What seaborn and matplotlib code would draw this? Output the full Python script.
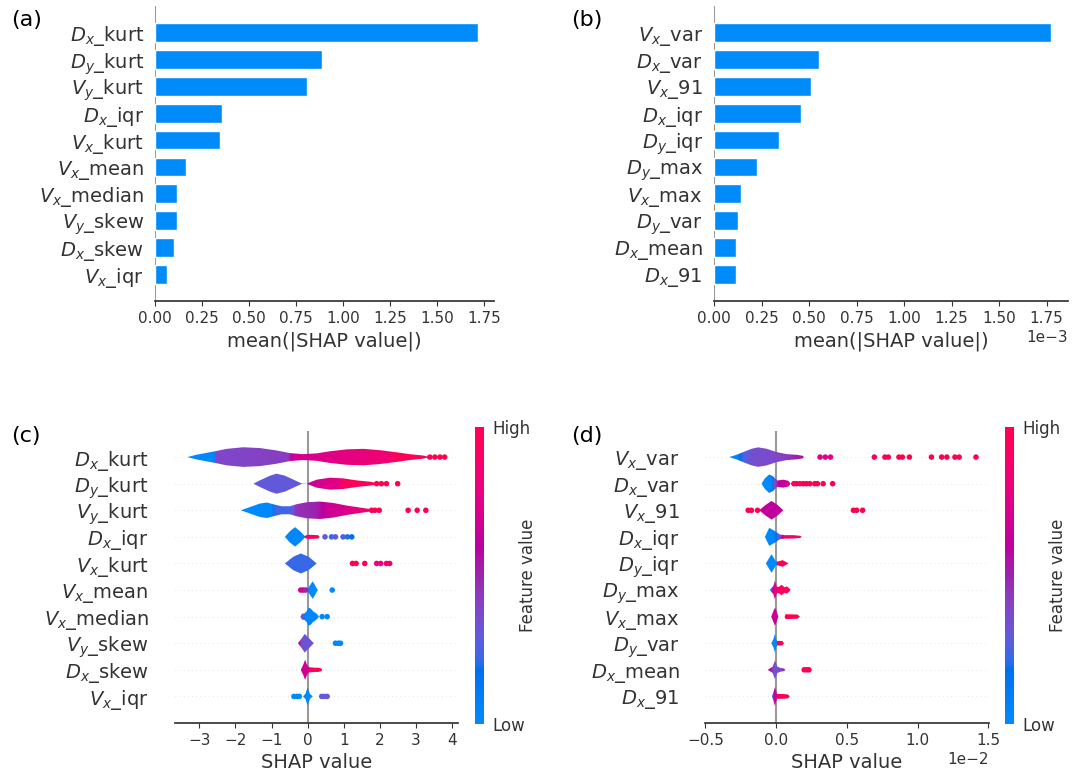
import numpy as np
import pandas as pd
import matplotlib
matplotlib.use("Agg")
import matplotlib.pyplot as plt
import seaborn as sns
from matplotlib.colors import LinearSegmentedColormap, Normalize
from matplotlib.cm import ScalarMappable
from matplotlib.ticker import MultipleLocator

# ---------------- data ----------------
A_FEATURES = [r"$D_x$_kurt", r"$D_y$_kurt", r"$V_y$_kurt", r"$D_x$_iqr", r"$V_x$_kurt",
              r"$V_x$_mean", r"$V_x$_median", r"$V_y$_skew", r"$D_x$_skew", r"$V_x$_iqr"]
A_VALUES = [1.718, 0.886, 0.808, 0.355, 0.344, 0.167, 0.119, 0.116, 0.100, 0.065]

B_FEATURES = [r"$V_x$_var", r"$D_x$_var", r"$V_x$_91", r"$D_x$_iqr", r"$D_y$_iqr",
              r"$D_y$_max", r"$V_x$_max", r"$D_y$_var", r"$D_x$_mean", r"$D_x$_91"]
B_VALUES = [1.774e-3, 0.554e-3, 0.512e-3, 0.458e-3, 0.344e-3,
            0.227e-3, 0.142e-3, 0.128e-3, 0.116e-3, 0.116e-3]

# panel (c): violin outlines (SHAP value, half width) and feature-value colouring
C_SHAPE_X = [
    [-3.33, -3.07, -2.79, -2.56, -2.24, -1.78, -1.32, -0.86, -0.49, -0.12, 0.25, 0.62, 1.08, 1.54, 2.00, 2.46, 2.83, 3.19, 3.38],
    [-1.50, -1.32, -1.04, -0.86, -0.63, -0.35, -0.17, -0.03, 0.06, 0.25, 0.62, 0.98, 1.35, 1.72, 2.00],
    [-1.85, -1.59, -1.32, -1.13, -0.95, -0.72, -0.49, -0.31, -0.03, 0.34, 0.71, 1.08, 1.45, 1.72, 1.95],
    [-0.63, -0.50, -0.35, -0.20, -0.08, -0.02, 0.15, 0.30, 0.33],
    [-0.63, -0.40, -0.19, 0.03, 0.25],
    [-0.03, 0.06, 0.14, 0.21, 0.28],
    [-0.20, -0.16, -0.09, -0.03, 0.03, 0.09, 0.15, 0.22, 0.29, 0.31],
    [-0.27, -0.20, -0.08, 0.05, 0.17],
    [-0.19, -0.12, -0.07, -0.02, 0.03, 0.10, 0.20, 0.30, 0.38, 0.40],
    [-0.13, -0.06, 0.00, 0.06, 0.14],
]
C_SHAPE_W = [
    [0.0, 0.09, 0.16, 0.22, 0.31, 0.37, 0.34, 0.25, 0.15, 0.11, 0.14, 0.22, 0.29, 0.31, 0.26, 0.18, 0.11, 0.06, 0.0],
    [0.0, 0.125, 0.30, 0.377, 0.30, 0.125, 0.01, 0.0, 0.05, 0.15, 0.226, 0.20, 0.125, 0.075, 0.0],
    [0.0, 0.125, 0.253, 0.291, 0.226, 0.151, 0.151, 0.226, 0.302, 0.328, 0.275, 0.177, 0.102, 0.049, 0.0],
    [0.0, 0.20, 0.366, 0.20, 0.03, 0.075, 0.075, 0.06, 0.0],
    [0.0, 0.25, 0.377, 0.25, 0.0],
    [0.0, 0.17, 0.33, 0.17, 0.0],
    [0.0, 0.11, 0.12, 0.20, 0.34, 0.30, 0.20, 0.14, 0.05, 0.0],
    [0.0, 0.12, 0.35, 0.17, 0.0],
    [0.0, 0.20, 0.38, 0.20, 0.10, 0.09, 0.08, 0.08, 0.05, 0.0],
    [0.0, 0.10, 0.35, 0.10, 0.0],
]
C_COLOR_X = [
    [-3.33, -2.58, -2.55, -0.55, -0.40, 0.60, 2.30, 2.40, 3.40],
    [-1.50, -0.10, 0.05, 0.90, 0.98, 2.00],
    [-1.85, -1.00, -0.95, -0.45, -0.35, 0.20, 0.50, 1.20, 1.80, 1.95],
    [-0.63, -0.10, -0.06, 0.33],
    [-0.63, 0.25],
    [-0.03, 0.28],
    [-0.20, -0.10, -0.07, 0.31],
    [-0.27, -0.22, -0.19, 0.17],
    [-0.19, 0.02, 0.05, 0.40],
    [-0.13, 0.14],
]
C_COLOR_V = [
    [0.0, 0.02, 0.38, 0.42, 0.68, 0.75, 0.85, 0.95, 1.0],
    [0.30, 0.30, 0.65, 0.78, 0.95, 1.0],
    [0.0, 0.02, 0.22, 0.25, 0.45, 0.50, 0.65, 0.75, 0.90, 0.95],
    [0.02, 0.02, 0.90, 1.0],
    [0.22, 0.22],
    [0.0, 0.0],
    [0.35, 0.35, 0.02, 0.02],
    [0.70, 0.70, 0.33, 0.33],
    [0.68, 0.68, 0.95, 0.98],
    [0.02, 0.02],
]
C_DOT_X = [
    [3.38, 3.52, 3.66, 3.79],
    [1.91, 2.04, 2.18, 2.49],
    [1.77, 1.86, 1.98, 2.78, 3.03, 3.27],
    [0.48, 0.66, 0.77, 0.98, 1.10, 1.22],
    [1.24, 1.34, 1.58, 1.91, 2.02, 2.18, 2.27],
    [-0.19, -0.12, -0.05, 0.68],
    [0.40, 0.54],
    [0.77, 0.85, 0.91],
    [],
    [-0.38, -0.30, -0.23, 0.39, 0.46, 0.54],
]
C_DOT_V = [
    [1.0, 1.0, 1.0, 1.0],
    [1.0, 1.0, 1.0, 1.0],
    [0.95, 1.0, 1.0, 1.0, 1.0, 1.0],
    [0.30, 0.22, 0.30, 0.25, 0.20, 0.18],
    [1.0, 1.0, 0.95, 0.80, 0.80, 0.85, 0.85],
    [0.70, 0.70, 0.50, 0.0],
    [0.02, 0.02],
    [0.02, 0.02, 0.02],
    [],
    [0.02, 0.02, 0.02, 0.30, 0.30, 0.30],
]

# panel (d): values in units of 1e-2
D_UNIT = 1e-2
D_SHAPE_X = [
    [-0.332, -0.280, -0.233, -0.174, -0.127, -0.068, 0.003, 0.073, 0.144, 0.187, 0.196],
    [-0.104, -0.080, -0.049, -0.021, 0.007, 0.050, 0.085, 0.102],
    [-0.120, -0.075, -0.033, 0.010, 0.050],
    [-0.080, -0.049, -0.009, 0.026, 0.062, 0.121, 0.170, 0.180],
    [-0.073, -0.033, -0.002, 0.014, 0.045, 0.078, 0.085],
    [-0.045, -0.035, -0.020, -0.009, 0.005, 0.020, 0.038, 0.060, 0.075, 0.095, 0.100],
    [-0.035, -0.020, -0.009, 0.003, 0.015, 0.060, 0.066, 0.150, 0.168],
    [-0.035, -0.020, -0.009, 0.000, 0.007, 0.020, 0.045, 0.055],
    [-0.060, -0.045, -0.025, -0.009, 0.008, 0.030, 0.055, 0.065],
    [-0.030, -0.020, -0.009, 0.002, 0.008, 0.050, 0.085, 0.095],
]
D_SHAPE_W = [
    [0.0, 0.087, 0.189, 0.313, 0.366, 0.313, 0.189, 0.113, 0.087, 0.049, 0.0],
    [0.0, 0.20, 0.35, 0.275, 0.12, 0.15, 0.11, 0.0],
    [0.0, 0.20, 0.35, 0.20, 0.0],
    [0.0, 0.34, 0.215, 0.09, 0.065, 0.065, 0.04, 0.0],
    [0.0, 0.35, 0.075, 0.075, 0.125, 0.03, 0.0],
    [0.0, 0.07, 0.15, 0.35, 0.12, 0.12, 0.20, 0.10, 0.14, 0.05, 0.0],
    [0.0, 0.20, 0.34, 0.20, 0.0, 0.0, 0.09, 0.08, 0.0],
    [0.0, 0.15, 0.35, 0.15, 0.08, 0.09, 0.08, 0.0],
    [0.0, 0.05, 0.12, 0.35, 0.12, 0.07, 0.05, 0.0],
    [0.0, 0.15, 0.35, 0.15, 0.09, 0.09, 0.07, 0.0],
]
D_COLOR_X = [
    [-0.332, -0.280, -0.230, -0.170, 0.000, 0.100, 0.196],
    [-0.104, -0.030, -0.015, 0.020, 0.102],
    [-0.120, 0.050],
    [-0.080, -0.020, 0.030, 0.060, 0.180],
    [-0.073, -0.002, 0.008, 0.085],
    [-0.045, -0.030, -0.010, 0.020, 0.050, 0.100],
    [-0.035, 0.015, 0.060, 0.168],
    [-0.035, 0.004, 0.012, 0.055],
    [-0.060, -0.035, -0.020, 0.000, 0.040, 0.065],
    [-0.030, -0.015, 0.005, 0.020, 0.095],
]
D_COLOR_V = [
    [0.0, 0.05, 0.25, 0.35, 0.38, 0.45, 0.60],
    [0.0, 0.02, 0.30, 0.62, 0.70],
    [0.62, 0.62],
    [0.0, 0.02, 0.40, 0.85, 1.0],
    [0.0, 0.02, 1.0, 1.0],
    [0.10, 0.50, 0.80, 0.90, 0.95, 1.0],
    [0.65, 0.65, 1.0, 1.0],
    [0.0, 0.02, 1.0, 1.0],
    [0.80, 0.50, 0.35, 0.33, 0.45, 0.50],
    [0.10, 0.65, 0.75, 1.0, 1.0],
]
D_DOT_X = [
    [0.310, 0.347, 0.384, 0.694, 0.769, 0.793, 0.868, 0.892, 0.942, 1.098, 1.170, 1.207, 1.264, 1.294, 1.413],
    [0.125, 0.144, 0.167, 0.191, 0.214, 0.238, 0.273, 0.292, 0.332, 0.399],
    [-0.198, -0.175, -0.132, 0.546, 0.569, 0.611],
    [], [], [], [], [],
    [0.198, 0.215, 0.231],
    [],
]
D_DOT_V = [
    [0.75, 0.75, 0.80, 1.0, 1.0, 1.0, 1.0, 1.0, 1.0, 1.0, 1.0, 1.0, 1.0, 1.0, 1.0],
    [0.95, 0.95, 0.95, 1.0, 1.0, 1.0, 1.0, 1.0, 1.0, 1.0],
    [1.0, 1.0, 0.95, 1.0, 1.0, 1.0],
    [], [], [], [], [],
    [1.0, 1.0, 1.0],
    [],
]

# ---------------- style ----------------
sns.set_theme(style="white")
plt.rcParams['font.family'] = ['DejaVu Sans']
plt.rcParams['mathtext.fontset'] = 'dejavusans'
AXIS_COLOR = "#333333"
BAR_COLOR = "#008bfb"


def _lch_to_rgb(l, c, h):
    a, b = c * np.cos(h), c * np.sin(h)
    fy = (l + 16.0) / 116.0
    fx, fz = fy + a / 500.0, fy - b / 200.0
    d = 6.0 / 29.0
    finv = lambda t: np.where(t > d, t ** 3, 3 * d * d * (t - 4.0 / 29.0))
    xyz = np.array([0.95047 * finv(fx), finv(fy), 1.08883 * finv(fz)])
    m = np.array([[3.2406, -1.5372, -0.4986], [-0.9689, 1.8758, 0.0415], [0.0557, -0.2040, 1.0570]])
    lin = m @ xyz
    rgb = np.where(lin > 0.0031308, 1.055 * np.abs(lin) ** (1 / 2.4) - 0.055, 12.92 * lin)
    return np.clip(rgb, 0, 1)


def shap_red_blue():
    blue_lch = [54.0, 70.0, 4.6588]
    red_lch = [54.0, 90.0, 0.35470565 + 2 * np.pi]
    n = 100
    ls = list(np.linspace(blue_lch[0], 40.0, n // 2)) + list(np.linspace(40.0, red_lch[0], n // 2))
    cs = np.linspace(blue_lch[1], red_lch[1], n)
    hs = np.linspace(blue_lch[2], red_lch[2], n)
    cols = [_lch_to_rgb(l, c, h) for l, c, h in zip(ls, cs, hs)]
    return LinearSegmentedColormap.from_list("red_blue", cols)


CMAP = shap_red_blue()

W, H = 1089, 778
fig = plt.figure(figsize=(W / 100, H / 100), dpi=100)


def box(l, t, r, b):
    return [l / W, 1 - b / H, (r - l) / W, (b - t) / H]


def style_axes(ax, ypad, step, sci):
    for s in ["top", "right", "left"]:
        ax.spines[s].set_visible(False)
    ax.spines["bottom"].set_color(AXIS_COLOR)
    ax.xaxis.set_major_locator(MultipleLocator(step))
    if sci:
        ax.ticklabel_format(style="sci", axis="x", scilimits=(0, 0))
    ax.tick_params(axis="y", length=0, pad=ypad, labelsize=14, labelcolor=AXIS_COLOR)
    ax.tick_params(axis="x", length=3.5, width=0.8, color=AXIS_COLOR, labelsize=11,
                   labelcolor=AXIS_COLOR, bottom=True)
    ax.xaxis.get_offset_text().set_fontsize(11)
    ax.xaxis.get_offset_text().set_color(AXIS_COLOR)
    ax.set_ylabel("")


def bar_panel(rect, feats, vals, step, sci):
    ax = fig.add_axes(rect)
    df = pd.DataFrame({"feature": feats, "value": vals})
    sns.barplot(data=df, x="value", y="feature", color=BAR_COLOR, saturation=1,
                width=0.7, orient="h", ax=ax)
    ax.axvline(0, color="#999999", lw=1.5, zorder=-1)
    ax.set_ylim(len(feats), -1)
    ax.set_xlim(0, max(vals) * 1.05)
    style_axes(ax, 8, step, sci)
    ax.set_xlabel("mean(|SHAP value|)", fontsize=14, color=AXIS_COLOR)
    return ax


def violin_panel(rect, cbar_rect, feats, sx, sw, cx, cv, dx, dv, unit, xlim, ypad, step, sci):
    ax = fig.add_axes(rect)
    ax.axvline(0, color="#999999", lw=1.5, zorder=-1)
    for i in range(len(feats)):
        ax.axhline(i, color="#cccccc", lw=0.5, dashes=(1, 5), zorder=-1)
        xs = np.asarray(sx[i]) * unit
        ws = np.asarray(sw[i])
        px = np.concatenate([xs, xs[::-1]])
        py = np.concatenate([i - ws, (i + ws)[::-1]])
        poly = ax.fill(px, py, facecolor="none", edgecolor="none")[0]
        grid = np.linspace(xs[0], xs[-1], 400)
        vals = np.interp(grid, np.asarray(cx[i]) * unit, cv[i])
        im = ax.imshow(vals[None, :], extent=[xs[0], xs[-1], i - 0.5, i + 0.5],
                       aspect="auto", cmap=CMAP, vmin=0, vmax=1,
                       interpolation="bilinear", zorder=3)
        im.set_clip_path(poly)
    rows_x, rows_y, rows_v = [], [], []
    for i in range(len(feats)):
        rows_x += list(np.asarray(dx[i]) * unit)
        rows_y += [i] * len(dx[i])
        rows_v += list(dv[i])
    dots = pd.DataFrame({"x": rows_x, "y": rows_y, "v": rows_v})
    sns.scatterplot(data=dots, x="x", y="y", hue="v", palette=CMAP, hue_norm=(0, 1),
                    s=16, linewidth=0, legend=False, ax=ax, zorder=4)
    ax.set_yticks(range(len(feats)))
    ax.set_yticklabels(feats)
    ax.set_ylim(len(feats), -1)
    ax.set_xlim(xlim[0] * unit, xlim[1] * unit)
    style_axes(ax, ypad, step * unit, sci)
    ax.set_xlabel("SHAP value", fontsize=14, color=AXIS_COLOR)

    cax = fig.add_axes(cbar_rect)
    cb = fig.colorbar(ScalarMappable(norm=Normalize(0, 1), cmap=CMAP), cax=cax, ticks=[0, 1])
    cb.set_ticklabels(["Low", "High"])
    cb.outline.set_visible(False)
    cax.tick_params(length=0, labelsize=12, labelcolor=AXIS_COLOR, pad=6)
    cb.set_label("Feature value", size=12, labelpad=-8, color=AXIS_COLOR)
    return ax


bar_panel(box(155, 6, 494, 301), A_FEATURES, A_VALUES, 0.25, False)
bar_panel(box(714, 6, 1068, 301), B_FEATURES, B_VALUES, 0.25e-3, True)
violin_panel(box(175, 430.5, 458, 723), box(475, 427, 484, 724), A_FEATURES,
             C_SHAPE_X, C_SHAPE_W, C_COLOR_X, C_COLOR_V, C_DOT_X, C_DOT_V, 1.0,
             (-3.67, 4.16), 19, 1.0, False)
violin_panel(box(704.5, 430.5, 989, 723), box(1005, 427, 1014, 724), B_FEATURES,
             D_SHAPE_X, D_SHAPE_W, D_COLOR_X, D_COLOR_V, D_DOT_X, D_DOT_V, D_UNIT,
             (-0.507, 1.505), 18, 0.5, True)

for label, (x, y) in zip(["(a)", "(b)", "(c)", "(d)"],
                         [(11, 20), (571, 20), (11, 436), (571, 436)]):
    fig.text(x / W, 1 - y / H, label, fontsize=16, va="center", ha="left", color="black")

fig.savefig("out.png", dpi=100)
